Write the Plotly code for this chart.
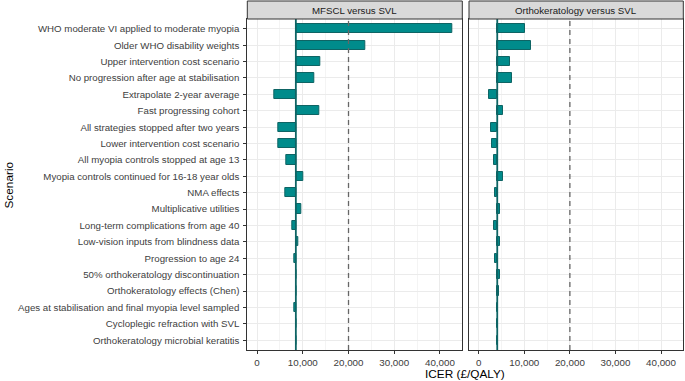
import plotly.graph_objects as go

W, H = 685, 381

scenarios = [
    "WHO moderate VI applied to moderate myopia",
    "Older WHO disability weights",
    "Upper intervention cost scenario",
    "No progression after age at stabilisation",
    "Extrapolate 2-year average",
    "Fast progressing cohort",
    "All strategies stopped after two years",
    "Lower intervention cost scenario",
    "All myopia controls stopped at age 13",
    "Myopia controls continued for 16-18 year olds",
    "NMA effects",
    "Multiplicative utilities",
    "Long-term complications from age 40",
    "Low-vision inputs from blindness data",
    "Progression to age 24",
    "50% orthokeratology discontinuation",
    "Orthokeratology effects (Chen)",
    "Ages at stabilisation and final myopia level sampled",
    "Cycloplegic refraction with SVL",
    "Orthokeratology microbial keratitis",
]

panel_titles = ["MFSCL versus SVL", "Orthokeratology versus SVL"]
base_icers = [8480, 4060]
threshold = 20000

mfscl_icer = [42750, 23620, 13910, 12460, 3840, 13700, 4710, 4710, 6300, 10150,
              6090, 9710, 7610, 8990, 8120, 8480, 8480, 8120, 8480, 8480]
ortho_icer = [10150, 11380, 6960, 7390, 2250, 5220, 2680, 2900, 3260, 5220,
              3620, 4710, 3410, 4710, 3620, 4710, 4490, 4060, 4060, 4060]

x_ticks = [0, 10000, 20000, 30000, 40000]
x_tick_labels = ["0", "10,000", "20,000", "30,000", "40,000"]

FONT = "Liberation Sans, Arial, sans-serif"
TEAL = "#008B8B"
TEAL_DARK = "#0E6464"
BORDER = "#333333"
GRID = "#EBEBEB"
GRID_MINOR = "#F4F4F4"
TICK_TEXT = "#404040"

fig = go.Figure()
series = [mfscl_icer, ortho_icer]
for i, (vals, base) in enumerate(zip(series, base_icers)):
    xa = "x" if i == 0 else "x2"
    ya = "y" if i == 0 else "y2"
    fig.add_trace(go.Bar(
        y=scenarios,
        x=[v - base for v in vals],
        base=base,
        orientation="h",
        width=0.56,
        marker=dict(color=TEAL, line=dict(color=TEAL_DARK, width=1)),
        xaxis=xa, yaxis=ya, showlegend=False, hoverinfo="skip",
    ))

px = lambda p: p / W
py = lambda p: 1 - p / H

x_doms = [[px(247.3), px(462.3)], [px(469), px(683.3)]]
y_dom = [py(350), py(19)]
x_range = [-2140, 44890]

axis_common = dict(
    range=x_range, tickvals=x_ticks, ticktext=x_tick_labels,
    showgrid=True, gridcolor=GRID, gridwidth=1,
    minor=dict(tickvals=[-5000, 5000, 15000, 25000, 35000], showgrid=True,
               gridcolor=GRID_MINOR, gridwidth=1, ticks=""),
    zeroline=False, showline=True, linecolor=BORDER, linewidth=1, mirror=True,
    ticks="outside", ticklen=3, tickcolor=BORDER, tickwidth=1,
    tickfont=dict(family=FONT, size=9.8, color=TICK_TEXT),
    fixedrange=True,
)
yaxis_common = dict(
    type="category", categoryorder="array", categoryarray=scenarios,
    range=[19.6, -0.6], showgrid=True, gridcolor=GRID, gridwidth=1,
    zeroline=False, showline=True, linecolor=BORDER, linewidth=1, mirror=True,
    domain=y_dom, fixedrange=True,
)

fig.update_layout(
    width=W, height=H,
    margin=dict(l=0, r=0, t=0, b=0),
    paper_bgcolor="white", plot_bgcolor="white",
    bargap=0,
    xaxis=dict(domain=x_doms[0], anchor="y", **axis_common),
    xaxis2=dict(domain=x_doms[1], anchor="y2", **axis_common),
    yaxis=dict(anchor="x", ticks="outside", ticklen=3, tickcolor=BORDER,
               ticklabelstandoff=2,
               tickfont=dict(family=FONT, size=9.7, color=TICK_TEXT),
               **yaxis_common),
    yaxis2=dict(anchor="x2", ticks="", showticklabels=False, **yaxis_common),
    font=dict(family=FONT),
)

shapes = []
annotations = []
for i, (xa, base) in enumerate(zip(["x", "x2"], base_icers)):
    ydom = "y domain" if i == 0 else "y2 domain"
    # base-case line
    shapes.append(dict(type="line", xref=xa, yref=ydom, x0=base, x1=base, y0=0, y1=1,
                       line=dict(color=TEAL_DARK, width=1.8), layer="above"))
    # willingness-to-pay threshold
    shapes.append(dict(type="line", xref=xa, yref=ydom, x0=threshold, x1=threshold, y0=0, y1=1,
                       line=dict(color="#666666", width=1.3, dash="5px,4px"), layer="above"))
    # strip
    shapes.append(dict(type="rect", xref="paper", yref="paper",
                       x0=x_doms[i][0], x1=x_doms[i][1], y0=py(19), y1=py(1),
                       fillcolor="#D9D9D9", line=dict(color=BORDER, width=1)))
    annotations.append(dict(xref="paper", yref="paper",
                            x=(x_doms[i][0] + x_doms[i][1]) / 2, y=py(10),
                            text=panel_titles[i], showarrow=False,
                            font=dict(family=FONT, size=9.7, color="#1A1A1A"),
                            xanchor="center", yanchor="middle"))

annotations.append(dict(xref="paper", yref="paper", x=px(465), y=py(374),
                        text="ICER (£/QALY)", showarrow=False,
                        font=dict(family=FONT, size=11.8, color="#000000"),
                        xanchor="center", yanchor="middle"))
annotations.append(dict(xref="paper", yref="paper", x=px(8.5), y=py(185),
                        text="Scenario", showarrow=False, textangle=-90,
                        font=dict(family=FONT, size=11.8, color="#000000"),
                        xanchor="center", yanchor="middle"))

fig.update_layout(shapes=shapes, annotations=annotations)
# remove the browser's default 8px page margin so the figure fills the window
fig.write_html("out.html", config={"displayModeBar": False},
               post_script="document.body.style.margin='0';")
